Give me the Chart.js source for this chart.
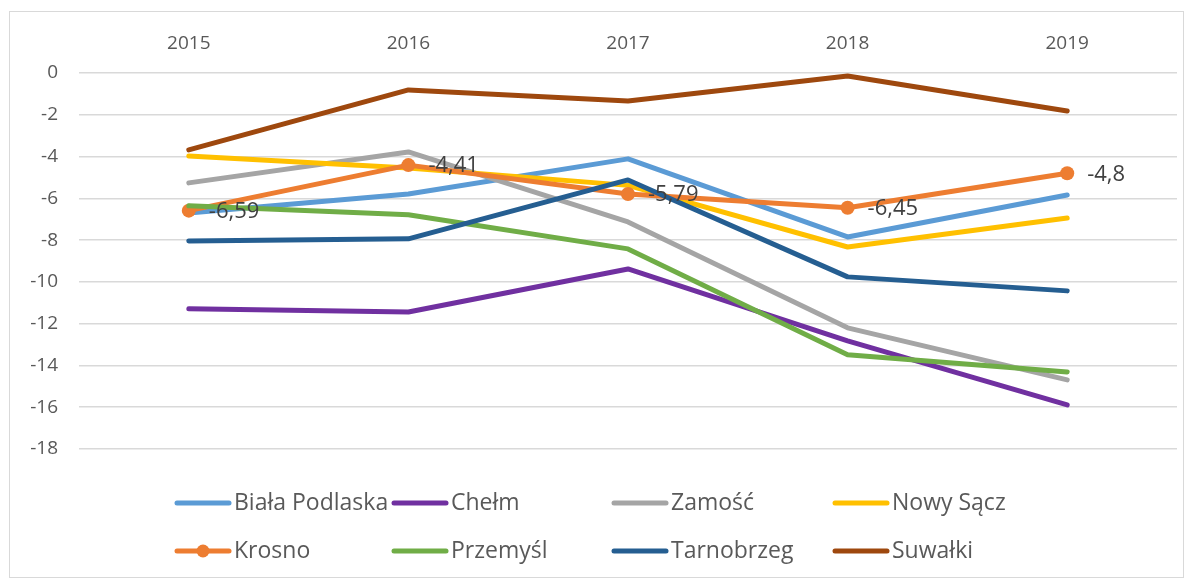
<!DOCTYPE html>
<html>
<head>
<meta charset="utf-8">
<script src="https://cdn.jsdelivr.net/npm/chart.js@4"></script>
<style>
html,body{margin:0;padding:0;background:#fff;}
#wrap{position:absolute;left:0;top:0;width:1194px;height:581px;}
#frame{position:absolute;left:9px;top:11px;width:1175px;height:567px;border:1px solid #d9d9d9;box-sizing:border-box;pointer-events:none;}
canvas{position:absolute;left:0;top:0;}
</style>
</head>
<body>
<div id="wrap"><canvas id="c" width="1194" height="581"></canvas><div id="frame"></div></div>
<script>
const years = ['2015','2016','2017','2018','2019'];
const seriesNames = ['Biała Podlaska','Chełm','Zamość','Nowy Sącz','Krosno','Przemyśl','Tarnobrzeg','Suwałki'];
const bialaPodlaska = [-6.70,-5.79,-4.11,-7.85,-5.84];
const chelm        = [-11.29,-11.44,-9.38,-12.82,-15.89];
const zamosc       = [-5.26,-3.78,-7.13,-12.20,-14.69];
const nowySacz     = [-3.97,-4.55,-5.38,-8.33,-6.94];
const krosno       = [-6.59,-4.41,-5.79,-6.45,-4.80];
const przemysl     = [-6.36,-6.79,-8.42,-13.49,-14.31];
const tarnobrzeg   = [-8.04,-7.94,-5.12,-9.76,-10.43];
const suwalki      = [-3.68,-0.81,-1.34,-0.14,-1.82];
const krosnoLabels = ['-6,59','-4,41','-5,79','-6,45','-4,8'];
const yTicks = [0,-2,-4,-6,-8,-10,-12,-14,-16,-18];

const colors = ['#5B9BD5','#7030A0','#A5A5A5','#FFC000','#ED7D31','#70AD47','#255E91','#9E480E'];
const allData = [bialaPodlaska,chelm,zamosc,nowySacz,krosno,przemysl,tarnobrzeg,suwalki];
const FONT = '"Open Sans", "Noto Sans", sans-serif';

const datasets = allData.map((d,i)=>({
  label: seriesNames[i],
  data: d,
  borderColor: colors[i],
  backgroundColor: colors[i],
  borderWidth: 5,
  borderCapStyle: 'round',
  borderJoinStyle: 'round',
  tension: 0,
  fill: false,
  pointRadius: i===4 ? 7 : 0,
  pointHoverRadius: i===4 ? 7 : 0,
  pointBorderWidth: 0,
  pointBackgroundColor: colors[i],
  order: 8 - i
}));

const labelPlugin = {
  id: 'krosnoLabels',
  afterDatasetsDraw(chart){
    const ctx = chart.ctx;
    const meta = chart.getDatasetMeta(4);
    ctx.save();
    ctx.font = '22px ' + FONT;
    ctx.fillStyle = '#404040';
    ctx.textAlign = 'left';
    ctx.textBaseline = 'middle';
    meta.data.forEach((pt,i)=>{
      ctx.fillText(krosnoLabels[i], pt.x + 20, pt.y + 1);
    });
    ctx.restore();
  }
};

const legendPlugin = {
  id: 'gridLegend',
  afterDraw(chart){
    const ctx = chart.ctx;
    const cols = [175, 392, 612, 833];
    const rows = [503, 551];
    ctx.save();
    ctx.font = '23px ' + FONT;
    ctx.textBaseline = 'middle';
    ctx.textAlign = 'left';
    seriesNames.forEach((name,i)=>{
      const x = cols[i%4], y = rows[Math.floor(i/4)];
      ctx.strokeStyle = colors[i];
      ctx.lineWidth = 5;
      ctx.lineCap = 'round';
      ctx.beginPath(); ctx.moveTo(x+2,y); ctx.lineTo(x+54,y); ctx.stroke();
      if(i===4){
        ctx.fillStyle = colors[i];
        ctx.beginPath(); ctx.arc(x+28,y,6.5,0,Math.PI*2); ctx.fill();
      }
      ctx.fillStyle = '#595959';
      ctx.fillText(name, x+59, y);
    });
    ctx.restore();
  }
};

new Chart(document.getElementById('c'), {
  type: 'line',
  data: { labels: years, datasets },
  options: {
    responsive: false,
    animation: false,
    events: [],
    layout: { padding: { left: 0, right: 17, top: 0, bottom: 132 } },
    plugins: { legend: { display: false }, tooltip: { enabled: false } },
    scales: {
      x: {
        position: 'top',
        offset: true,
        grid: { display: false, drawTicks: false },
        border: { display: false },
        ticks: { color: '#595959', font: { family: FONT, size: 19 }, padding: 18, maxRotation: 0 },
        afterFit(s){ s.height = 73; }
      },
      y: {
        min: -18, max: 0,
        afterBuildTicks(s){ s.ticks = yTicks.map(v=>({value:v})); },
        grid: { color: '#d9d9d9', lineWidth: 1.5, drawTicks: false },
        border: { display: false },
        ticks: { color: '#595959', font: { family: FONT, size: 19 }, padding: 21, stepSize: 2 },
        afterFit(s){ s.width = 79; }
      }
    }
  },
  plugins: [labelPlugin, legendPlugin]
});
</script>
</body>
</html>
